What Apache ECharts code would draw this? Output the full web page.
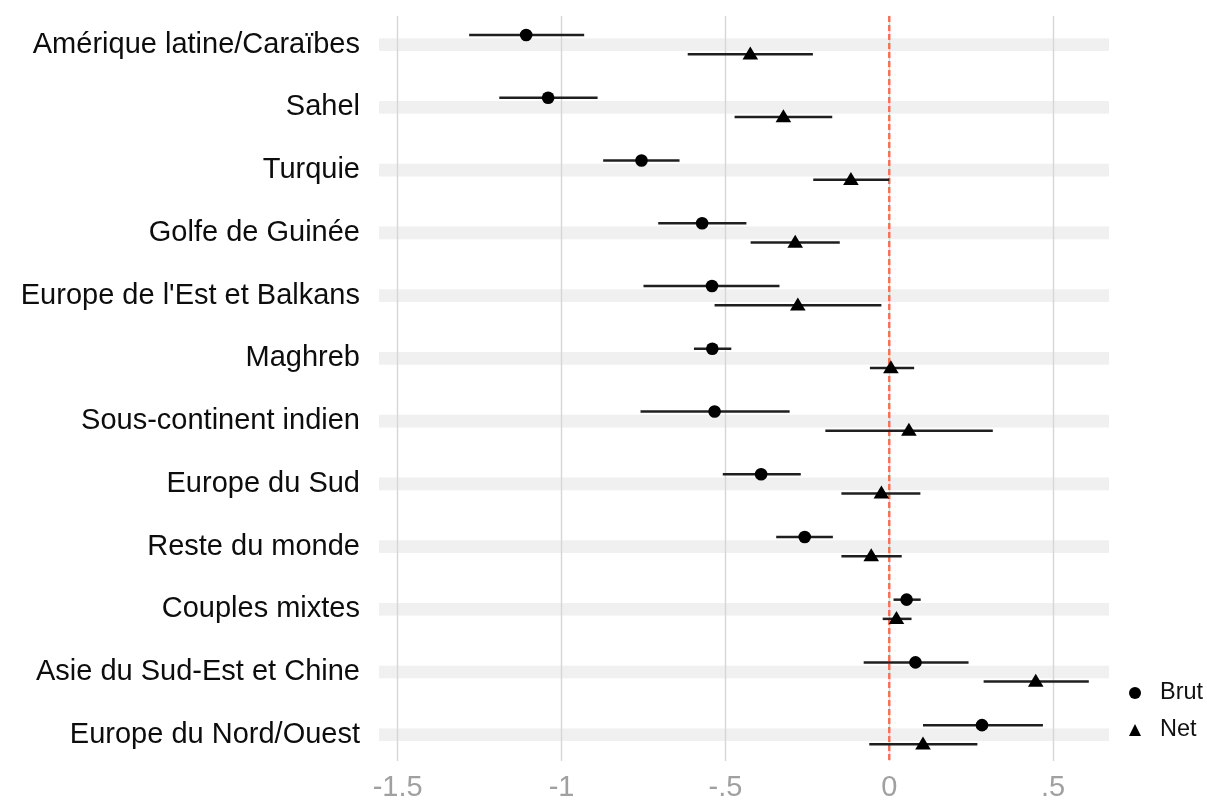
<!DOCTYPE html>
<html>
<head>
<meta charset="utf-8">
<script src="https://cdn.jsdelivr.net/npm/echarts@6/dist/echarts.min.js"></script>
<style>
  html, body { margin: 0; padding: 0; background: #fff; }
  #chart { width: 1207px; height: 802px; }
</style>
</head>
<body>
<div id="chart"></div>
<script>
// ---- data ----
const categories = [
  'Amérique latine/Caraïbes', 'Sahel', 'Turquie', 'Golfe de Guinée',
  "Europe de l'Est et Balkans", 'Maghreb', 'Sous-continent indien',
  'Europe du Sud', 'Reste du monde', 'Couples mixtes',
  'Asie du Sud-Est et Chine', 'Europe du Nord/Ouest'
];
const brutEst  = [-1.108, -1.041, -0.756, -0.571, -0.541, -0.540, -0.533, -0.391, -0.258, 0.053, 0.080, 0.283];
const brutLow  = [-1.282, -1.190, -0.873, -0.705, -0.750, -0.596, -0.759, -0.508, -0.345, 0.013, -0.078, 0.103];
const brutHigh = [-0.931, -0.890, -0.640, -0.436, -0.335, -0.482, -0.304, -0.270, -0.172, 0.096, 0.242, 0.469];
const netEst   = [-0.424, -0.323, -0.117, -0.287, -0.279, 0.005, 0.060, -0.024, -0.055, 0.022, 0.447, 0.103];
const netLow   = [-0.615, -0.472, -0.232, -0.423, -0.533, -0.059, -0.195, -0.146, -0.146, -0.020, 0.288, -0.061];
const netHigh  = [-0.233, -0.174, 0.000, -0.151, -0.024, 0.076, 0.316, 0.095, 0.038, 0.068, 0.609, 0.269];
const xTickValues = [-1.5, -1, -0.5, 0, 0.5];
const xTickLabels = ['-1.5', '-1', '-.5', '0', '.5'];
const refLine = [0];

// ---- chart ----
const FONT = "Arial, 'Liberation Sans', Helvetica, sans-serif";
const DODGE = 0.153;
const chart = echarts.init(document.getElementById('chart'), null, { renderer: 'canvas' });

function errRender(kind, offset) {
  return function (params, api) {
    const idx = api.value(3);
    const size = api.size([0, 1])[1];
    const c = api.coord([api.value(2), idx]);
    const yy = c[1] + offset * size;
    const x0 = api.coord([api.value(0), idx])[0];
    const x1 = api.coord([api.value(1), idx])[0];
    const children = [{
      type: 'line',
      shape: { x1: x0, y1: yy, x2: x1, y2: yy },
      style: { stroke: '#1f1f1f', lineWidth: 2.5 }
    }];
    if (kind === 'circle') {
      children.push({ type: 'circle', shape: { cx: c[0], cy: yy, r: 6.3 }, style: { fill: '#000' } });
    } else {
      children.push({
        type: 'polygon',
        shape: { points: [[c[0], yy - 7.8], [c[0] + 7.8, yy + 5.2], [c[0] - 7.8, yy + 5.2]] },
        style: { fill: '#000' }
      });
    }
    return { type: 'group', children: children };
  };
}

const option = {
  animation: false,
  backgroundColor: '#ffffff',
  textStyle: { fontFamily: FONT },
  legend: {
    orient: 'vertical',
    left: 1129,
    top: 681,
    padding: 0,
    itemWidth: 12,
    itemHeight: 12,
    itemGap: 13,
    textStyle: { fontSize: 23.5, color: '#111', fontFamily: FONT, lineHeight: 23, padding: [0, 0, 0, 14] },
    data: [{ name: 'Brut', icon: 'circle' }, { name: 'Net', icon: 'triangle' }],
    itemStyle: { color: '#000' }
  },
  grid: [
    { left: 379, right: 98, top: 13.3, bottom: 35.9, containLabel: false },
    { left: 397.7, right: 153.9, top: 16, bottom: 27, containLabel: false }
  ],
  xAxis: [
    { gridIndex: 0, type: 'value', min: -1.5571, max: 0.6706, show: false },
    {
      gridIndex: 1, type: 'value', min: -1.5, max: 0.5, interval: 0.5,
      axisLine: { show: false }, axisTick: { show: false },
      splitLine: { show: true, lineStyle: { color: '#d6d6d6', width: 1.4 } },
      axisLabel: {
        fontSize: 29, color: '#a0a0a0', margin: 12, fontFamily: FONT,
        formatter: function (v) {
          const i = xTickValues.findIndex(t => Math.abs(t - v) < 1e-9);
          return i >= 0 ? xTickLabels[i] : '';
        }
      }
    }
  ],
  yAxis: [
    {
      gridIndex: 0, type: 'category', data: categories, inverse: true,
      axisLine: { show: false }, axisTick: { show: false }, splitLine: { show: false },
      axisLabel: { fontSize: 29, color: '#0d0d0d', margin: 19, fontFamily: FONT }
    },
    { gridIndex: 1, type: 'value', min: 0, max: 1, show: false }
  ],
  series: [
    {
      name: 'bands', type: 'custom', xAxisIndex: 0, yAxisIndex: 0, z: -1, silent: true,
      data: categories.map((c, i) => [0, i]),
      encode: { x: 0, y: 1 },
      renderItem: function (params, api) {
        const cs = params.coordSys;
        const size = api.size([0, 1])[1];
        const yc = api.coord([0, api.value(1)])[1];
        const h = size * 0.2025;
        return { type: 'rect', shape: { x: cs.x, y: yc - h / 2, width: cs.width, height: h }, style: { fill: '#f0f0f0' } };
      }
    },
    {
      name: 'ref', type: 'custom', xAxisIndex: 1, yAxisIndex: 1, silent: true, z: 3,
      data: refLine.map(v => [v, 0]),
      encode: { x: 0, y: 1 },
      renderItem: function (params, api) {
        const cs = params.coordSys;
        const x = api.coord([api.value(0), 0])[0];
        return {
          type: 'line', shape: { x1: x, y1: cs.y, x2: x, y2: cs.y + cs.height },
          style: { stroke: '#fb6e52', lineWidth: 2.4, lineDash: [6, 3] }
        };
      }
    },
    {
      name: 'Brut', type: 'custom', xAxisIndex: 0, yAxisIndex: 0, z: 4,
      itemStyle: { color: '#000' },
      data: categories.map((c, i) => [brutLow[i], brutHigh[i], brutEst[i], i]),
      encode: { x: [0, 1, 2], y: 3 },
      renderItem: errRender('circle', -DODGE)
    },
    {
      name: 'Net', type: 'custom', xAxisIndex: 0, yAxisIndex: 0, z: 4,
      itemStyle: { color: '#000' },
      data: categories.map((c, i) => [netLow[i], netHigh[i], netEst[i], i]),
      encode: { x: [0, 1, 2], y: 3 },
      renderItem: errRender('triangle', DODGE)
    }
  ]
};
chart.setOption(option);
</script>
</body>
</html>
